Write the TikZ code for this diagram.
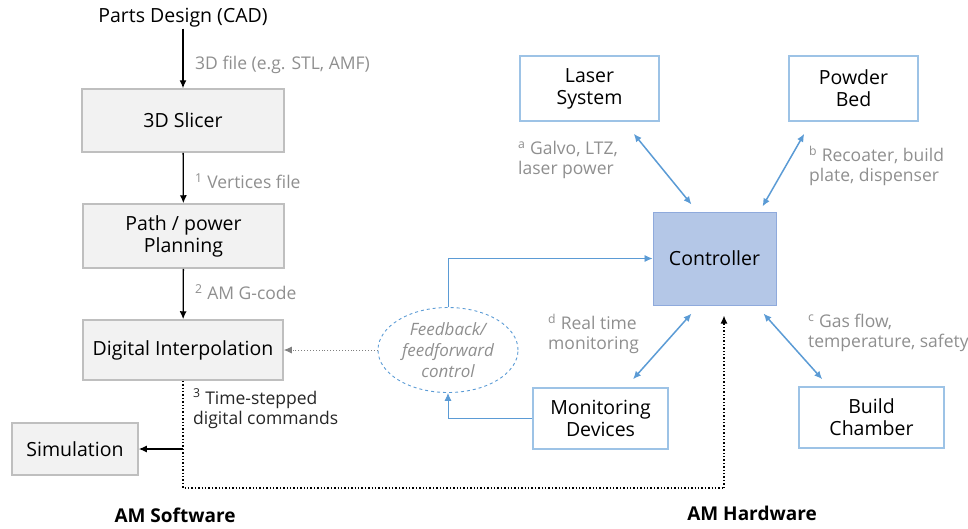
\documentclass[tikz,border=0pt]{standalone}
\usepackage{fontspec}
\setmainfont{Open Sans}
\usepackage{tikz}
\usetikzlibrary{calc, shapes.geometric, arrows.meta}
\definecolor{boxgray}{HTML}{F2F2F2}
\definecolor{linegray}{HTML}{BFBFBF}
\definecolor{textgray}{HTML}{8F8F8F}
\definecolor{hwblue}{HTML}{9DC3E6}
\definecolor{arrowblue}{HTML}{5B9BD5}
\definecolor{ctrlfill}{HTML}{B4C7E7}
\definecolor{ctrlline}{HTML}{8FAADC}
\begin{document}
\begin{tikzpicture}[x=1pt, y=-1pt, >={Latex[length=8pt, width=7pt]},
  every node/.style={font=\fontsize{19.5}{22}\selectfont, inner sep=1pt},
  swbox/.style={draw=linegray, fill=boxgray, line width=1.5pt, align=center},
  hwbox/.style={draw=hwblue, line width=1.5pt, align=center},
  note/.style={font=\fontsize{17.5}{20.5}\selectfont, text=textgray, align=left},
  hwlink/.style={<->, draw=arrowblue, line width=1.5pt},
  fblink/.style={->, draw=arrowblue, line width=0.9pt}]
  \useasboundingbox (0,0) rectangle (968,528);
  \node (cad) at (183,18) {Parts Design (CAD)};
  \node[swbox, minimum width=202, minimum height=63] (slicer) at (183,120.5) {3D Slicer};
  \node[swbox, minimum width=201, minimum height=64] (plan) at (183.5,236) {Path / power\\Planning};
  \node[swbox, minimum width=200, minimum height=60] (interp) at (183,350) {Digital Interpolation};
  \node[swbox, minimum width=126, minimum height=52] (sim) at (75,449) {Simulation};
  \node[draw=arrowblue, dashed, line width=0.9pt, ellipse, minimum width=140, minimum height=85, inner sep=0pt,
        align=center, text=textgray, font=\fontsize{17}{21}\selectfont\itshape] (fb) at (448,350) {Feedback/\\feedforward\\control};
  \node[draw=ctrlline, fill=ctrlfill, line width=1pt, minimum width=123, minimum height=93] (ctrl) at (714.5,258.5) {Controller};
  \node[hwbox, minimum width=139, minimum height=65] (laser) at (589.5,88.5) {Laser\\System};
  \node[hwbox, minimum width=129, minimum height=65] (powder) at (853.5,88.5) {Powder\\Bed};
  \node[hwbox, minimum width=135, minimum height=61] (mon) at (600.5,418.5) {Monitoring\\Devices};
  \node[hwbox, minimum width=145, minimum height=61] (build) at (871.5,417.5) {Build\\Chamber};
  \node[note, anchor=west] (l3d) at (194,65) {3D file (e.g. STL, AMF)};
  \node[note, anchor=west] (lvert) at (194,181) {\textsuperscript{1} Vertices file};
  \node[note, anchor=west] (lgcode) at (194,292) {\textsuperscript{2} AM G-code};
  \node[note, anchor=west, text=black!85] (ltime) at (192,409) {\textsuperscript{3} Time-stepped\\digital commands};
  \node[note, anchor=west] (la) at (517,160) {\textsuperscript{a} Galvo, LTZ,\\laser power};
  \node[note, anchor=west] (lb) at (808,166) {\textsuperscript{b} Recoater, build\\plate, dispenser};
  \node[note, anchor=west] (lc) at (807,333) {\textsuperscript{c} Gas flow,\\temperature, safety};
  \node[note, anchor=west] (ld) at (547,334) {\textsuperscript{d} Real time\\monitoring};
  \node[font=\fontsize{19}{20}\selectfont\bfseries] (sw) at (175,515) {AM Software};
  \node[font=\fontsize{19}{20}\selectfont\bfseries] (hw) at (752,513) {AM Hardware};
  \coordinate (hwin) at (724,488);
  \draw[->, line width=1.3pt] (cad) -- (slicer);
  \draw[->, line width=1.3pt] (slicer) -- (plan);
  \draw[->, line width=1.3pt] (plan) -- (interp);
  \draw[dotted, line width=1.4pt] (interp.south) |- (hwin);
  \draw[dotted, line width=1.4pt, ->] (hwin) -- ([shift={(9.5,10)}]ctrl.south);
  \draw[->, line width=1.3pt] (interp.south |- sim.east) -- (sim.east);
  \draw[dotted, gray, line width=0.9pt, ->] (fb.west) -- (interp.east);
  \draw[fblink] (fb.north) |- (ctrl.west);
  \draw[fblink] (mon.west) -| (fb.south);
  \draw[hwlink] ([shift={(-26,12)}]laser.south east) -- ([shift={(39,-7)}]ctrl.north west);
  \draw[hwlink] ([shift={(16,12)}]powder.south west) -- ([shift={(-14,-5)}]ctrl.north east);
  \draw[hwlink] ([shift={(39,8)}]ctrl.south west) -- ([shift={(32.5,-8)}]mon.north);
  \draw[hwlink] ([shift={(-13,8)}]ctrl.south east) -- ([shift={(24,-7)}]build.north west);
\end{tikzpicture}
\end{document}
